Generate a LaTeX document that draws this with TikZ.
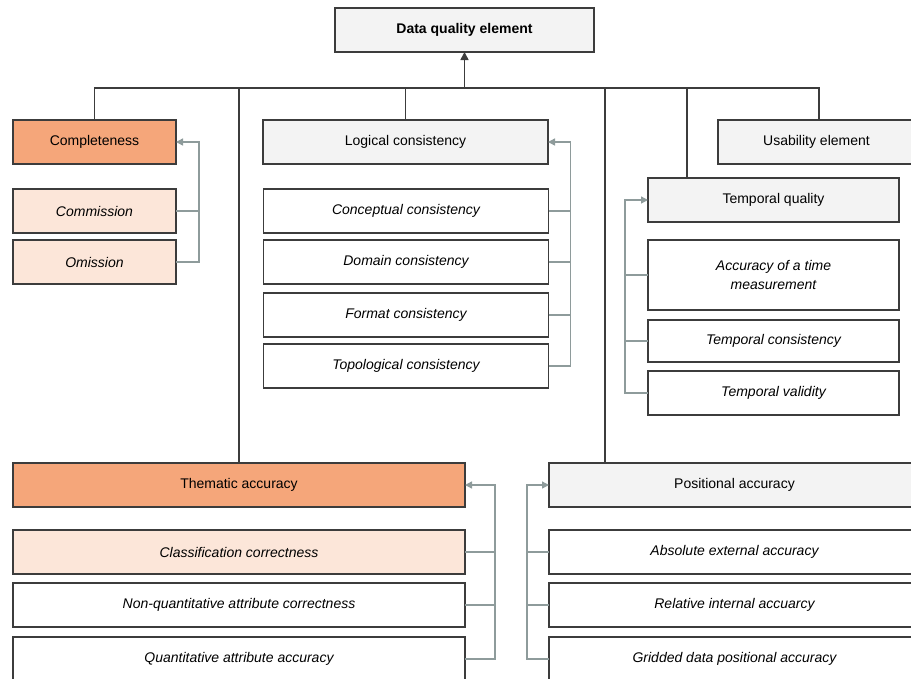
\documentclass[tikz,border=0pt]{standalone}
\usepackage{fontspec}
\setmainfont{Liberation Sans}
\usetikzlibrary{arrows.meta}
\definecolor{headorange}{HTML}{F5A67A}
\definecolor{subpeach}{HTML}{FCE6D9}
\definecolor{headgray}{HTML}{F3F3F3}
\definecolor{framegray}{HTML}{3C3C3C}
\definecolor{linkgray}{HTML}{8E9B9B}

\begin{document}
\begin{tikzpicture}[x=1pt,y=-1pt,font=\fontsize{14}{16}\selectfont,
  box/.style={draw=framegray,line width=1.6pt,inner sep=2pt,outer sep=0pt,minimum height=44pt,align=center},
  subbox/.style={box,font=\fontsize{14}{19}\selectfont\itshape},
  feed/.style={draw=linkgray,line width=1.4pt,-{Triangle[length=7pt,width=7pt]}},
  branch/.style={draw=linkgray,line width=1.4pt}]
\useasboundingbox (0,0) rectangle (911,678);
\clip (0,0) rectangle (911,678);
% root
\node[box,fill=headgray,minimum width=259pt,font=\fontsize{14}{16}\selectfont\bfseries] (dqe) at (464.5,30) {Data quality element};
% main elements
\node[box,fill=headorange,minimum width=163pt] (compl) at (94.5,142) {Completeness};
\node[box,fill=headgray,minimum width=285pt] (logic) at (405.5,142) {Logical consistency};
\node[box,fill=headgray,minimum width=197pt] (usab) at (816.5,142) {Usability element};
\node[box,fill=headgray,minimum width=251pt] (tq) at (773.5,200) {Temporal quality};
\node[box,fill=headorange,minimum width=452pt] (them) at (239,485) {Thematic accuracy};
\node[box,fill=headgray,minimum width=371pt] (pos) at (734.5,485) {Positional accuracy};
% sub elements
\node[subbox,fill=subpeach,minimum width=163pt] (comm) at (94.5,211) {Commission};
\node[subbox,fill=subpeach,minimum width=163pt] (omis) at (94.5,262) {Omission};
\foreach \name/\ypos/\label in {conc/211/Conceptual consistency,dom/262/Domain consistency,
  form/315/Format consistency,topo/366/Topological consistency} {
  \node[subbox,minimum width=285pt] (\name) at (406,\ypos) {\label};
}
\node[subbox,minimum width=251pt,minimum height=70pt] (tacc) at (773.5,275) {Accuracy of a time\\measurement};
\node[subbox,minimum width=251pt,minimum height=42pt] (tcons) at (773.5,341) {Temporal consistency};
\node[subbox,minimum width=251pt] (tval) at (773.5,393) {Temporal validity};
\node[subbox,fill=subpeach,minimum width=452pt] (class) at (239,552) {Classification correctness};
\foreach \name/\ypos/\label in {nonq/605/Non-quantitative attribute correctness,quant/659/Quantitative attribute accuracy} {
  \node[subbox,minimum width=452pt] (\name) at (239,\ypos) {\label};
}
\foreach \name/\ypos/\label in {abs/552/Absolute external accuracy,rel/605/Relative internal accuarcy,
  grid/659/Gridded data positional accuracy} {
  \node[subbox,minimum width=371pt] (\name) at (734.5,\ypos) {\label};
}
% tree lines
\coordinate (busL) at (94.5,88);
\coordinate (busR) at (819,88);
\coordinate (posTop) at (605,88);
\coordinate (tqTop) at (687,88);
\draw[framegray,line width=1.6pt] (compl.north) -- (busL) -- (busR) -- (busR |- usab.north);
\draw[framegray,line width=1.6pt,-{Triangle[length=8pt,width=8pt]}] (dqe.south |- busL) -- (dqe.south);
\draw[framegray,line width=1.6pt] (them.north |- busL) -- (them.north);
\draw[framegray,line width=1.6pt] (logic.north |- busL) -- (logic.north);
\draw[framegray,line width=1.6pt] (posTop) -- (posTop |- pos.north);
\draw[framegray,line width=1.6pt] (tqTop) -- (tqTop |- tq.north);
% feeds into the elements
\draw[feed] (omis.east) -- ++(23,0) |- (compl.east);
\draw[branch] (comm.east) -- ++(23,0);
\draw[feed] (topo.east) -- ++(22,0) |- (logic.east);
\foreach \name in {conc,dom,form} {
  \draw[branch] (\name.east) -- ++(22,0);
}
\draw[feed] (tval.west) -- ++(-23,0) |- (tq.west);
\foreach \name in {tacc,tcons} {
  \draw[branch] (\name.west) -- ++(-23,0);
}
\draw[feed] (quant.east) -- ++(30,0) |- (them.east);
\foreach \name in {class,nonq} {
  \draw[branch] (\name.east) -- ++(30,0);
}
\draw[feed] (grid.west) -- ++(-22,0) |- (pos.west);
\foreach \name in {abs,rel} {
  \draw[branch] (\name.west) -- ++(-22,0);
}
\end{tikzpicture}
\end{document}
